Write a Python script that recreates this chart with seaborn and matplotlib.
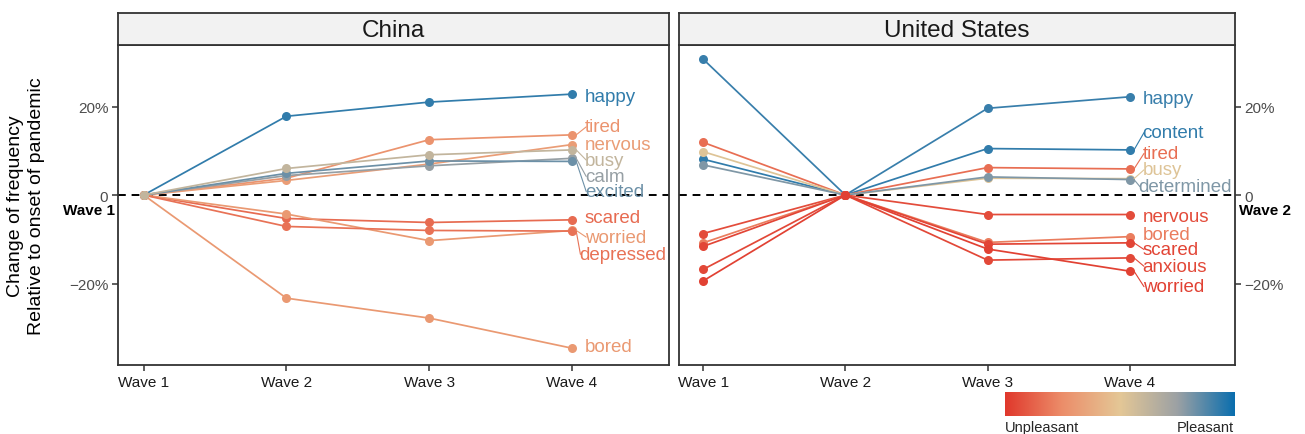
import numpy as np
import pandas as pd
import matplotlib
matplotlib.use("Agg")
import matplotlib.pyplot as plt
import seaborn as sns
from matplotlib.colors import LinearSegmentedColormap
from matplotlib.transforms import blended_transform_factory

waves = ["Wave 1", "Wave 2", "Wave 3", "Wave 4"]

# China: change relative to Wave 1 (percent)
china_emotions = ["happy", "tired", "nervous", "calm", "excited",
                  "scared", "worried", "depressed", "bored", "busy"]
china_values = [
    [0, 17.8, 21.0, 22.8],
    [0, 3.8, 12.5, 13.6],
    [0, 3.3, 7.0, 11.4],
    [0, 4.4, 6.6, 8.3],
    [0, 4.9, 7.7, 7.6],
    [0, -5.3, -6.2, -5.6],
    [0, -4.3, -10.3, -8.0],
    [0, -7.1, -8.0, -8.15],
    [0, -23.3, -27.8, -34.6],
    [0, 6.0, 9.1, 10.2],
]
china_valence = [0.93, 0.27, 0.32, 0.76, 0.83, 0.15, 0.30, 0.17, 0.30, 0.62]
# where the repelled end labels sit (percent)
china_label_y = [22.3, 15.4, 11.5, 4.2, 0.8, -5.0, -9.5, -13.4, -34.3, 7.9]

# United States: change relative to Wave 2 (percent)
us_emotions = ["happy", "content", "tired", "busy", "determined",
               "nervous", "bored", "scared", "anxious", "worried"]
us_values = [
    [30.7, 0, 19.6, 22.2],
    [8.1, 0, 10.5, 10.2],
    [11.9, 0, 6.2, 5.9],
    [9.8, 0, 3.8, 3.7],
    [6.8, 0, 4.1, 3.5],
    [-8.7, 0, -4.4, -4.4],
    [-10.8, 0, -10.7, -9.4],
    [-11.6, 0, -11.1, -10.8],
    [-16.8, 0, -14.7, -14.2],
    [-19.4, 0, -12.2, -17.2],
]
us_valence = [0.92, 0.93, 0.16, 0.52, 0.80, 0.06, 0.20, 0.04, 0.05, 0.03]
us_label_y = [21.8, 14.1, 9.4, 5.7, 1.9, -4.8, -8.9, -12.3, -16.1, -20.7]

cmap = LinearSegmentedColormap.from_list(
    "valence", ["#E0382C", "#EC8E6A", "#E4C796", "#9CA1A4", "#0A6EAE"])

sns.set_theme(style="white")
plt.rcParams["font.family"] = ["Liberation Sans", "DejaVu Sans"]

W, H = 1305, 435
fig = plt.figure(figsize=(W / 100, H / 100), dpi=100)

YLIM = (-38.4, 33.9)
FRAME = "#333333"


def px(x0, y0, x1, y1):
    return [x0 / W, 1 - y1 / H, (x1 - x0) / W, (y1 - y0) / H]


def draw_panel(rect, title, emotions, values, valence, label_y, right=False,
               xmin=0.82, xmax=4.68):
    ax = fig.add_axes(px(*rect))
    rows = []
    for e, vals in zip(emotions, values):
        for i, v in enumerate(vals):
            rows.append({"emotion": e, "wave": i + 1, "change": v})
    df = pd.DataFrame(rows)
    pal = {e: cmap(v) for e, v in zip(emotions, valence)}

    ax.axhline(0, color="black", ls=(0, (4, 3)), lw=1.4, zorder=1)
    sns.lineplot(data=df, x="wave", y="change", hue="emotion", hue_order=emotions,
                 palette=pal, marker="o", markersize=6.5, markeredgewidth=0,
                 linewidth=1.25, legend=False, ax=ax, sort=False, zorder=2)

    ax.set_xlim(xmin, xmax)
    ax.set_ylim(*YLIM)
    ax.set_xticks([1, 2, 3, 4])
    ax.set_xticklabels(waves, fontsize=11, color="#1a1a1a")
    ax.set_yticks([-20, 0, 20])
    ax.set_yticklabels(["\u221220%", "0", "20%"], fontsize=11, color="#4d4d4d")
    ax.set_xlabel("")
    ax.set_ylabel("")
    if right:
        ax.yaxis.tick_right()
    ax.tick_params(axis="both", length=4, width=1.1, color=FRAME, pad=3,
                   bottom=True, left=not right, right=right)
    for sp in ax.spines.values():
        sp.set_color(FRAME)
        sp.set_linewidth(1.3)

    # facet strip
    sx = fig.add_axes(px(rect[0], 14, rect[2], rect[1]))
    sx.set_facecolor("#F2F2F2")
    sx.set_xticks([])
    sx.set_yticks([])
    for sp in sx.spines.values():
        sp.set_color(FRAME)
        sp.set_linewidth(1.3)
    sx.text(0.5, 0.48, title, ha="center", va="center", fontsize=17.5, color="#1a1a1a",
            transform=sx.transAxes)

    # end labels, pulled back inside the panel when they overflow
    lx = 4.09
    texts = []
    for e, vals, ly in zip(emotions, values, label_y):
        t = ax.text(lx, ly, e, fontsize=13.5, color=pal[e], ha="left", va="center")
        texts.append((t, e, vals[-1], ly))

    fig.canvas.draw()
    r = fig.canvas.get_renderer()
    ax_right = ax.get_window_extent(r).x1
    inv = ax.transData.inverted()
    for t, e, v, ly in texts:
        bb = t.get_window_extent(r)
        x0 = lx
        if bb.x1 > ax_right - 3:
            shift = bb.x1 - (ax_right - 3)
            x0 = inv.transform((bb.x0 - shift, 0))[0]
            t.set_x(x0)
        if abs(ly - v) > 1.2:
            ax.plot([4.03, x0 + 0.01], [v, ly], color=pal[e], lw=0.8, zorder=2)
    return ax


ax1 = draw_panel((118, 46, 669, 366), "China", china_emotions, china_values,
                 china_valence, china_label_y, right=False, xmin=0.82, xmax=4.68)
ax2 = draw_panel((679, 46, 1235, 366), "United States", us_emotions, us_values,
                 us_valence, us_label_y, right=True, xmin=0.83, xmax=4.74)

# baseline wave annotations
tr1 = blended_transform_factory(ax1.transAxes, ax1.transData)
ax1.text(-0.006, -1.9, "Wave 1", transform=tr1, ha="right", va="top",
         fontsize=11, fontweight="bold", color="black")
tr2 = blended_transform_factory(ax2.transAxes, ax2.transData)
ax2.text(1.008, -1.9, "Wave 2", transform=tr2, ha="left", va="top",
         fontsize=11, fontweight="bold", color="black")

fig.text(26 / W, 1 - 206 / H, "Change of frequency\nRelative to onset of pandemic",
         rotation=90, ha="center", va="center", fontsize=14, color="black",
         linespacing=1.25)

# colour bar
cax = fig.add_axes(px(1005, 393, 1234, 417))
grad = np.linspace(0, 1, 256).reshape(1, -1)
cax.imshow(grad, aspect="auto", cmap=cmap, extent=(0, 1, 0, 1))
cax.set_xticks([])
cax.set_yticks([])
for sp in cax.spines.values():
    sp.set_visible(False)
fig.text(1005 / W, 1 - 428 / H, "Unpleasant", ha="left", va="center", fontsize=10.5)
fig.text(1234 / W, 1 - 428 / H, "Pleasant", ha="right", va="center", fontsize=10.5)

fig.savefig("out.png", dpi=100)
